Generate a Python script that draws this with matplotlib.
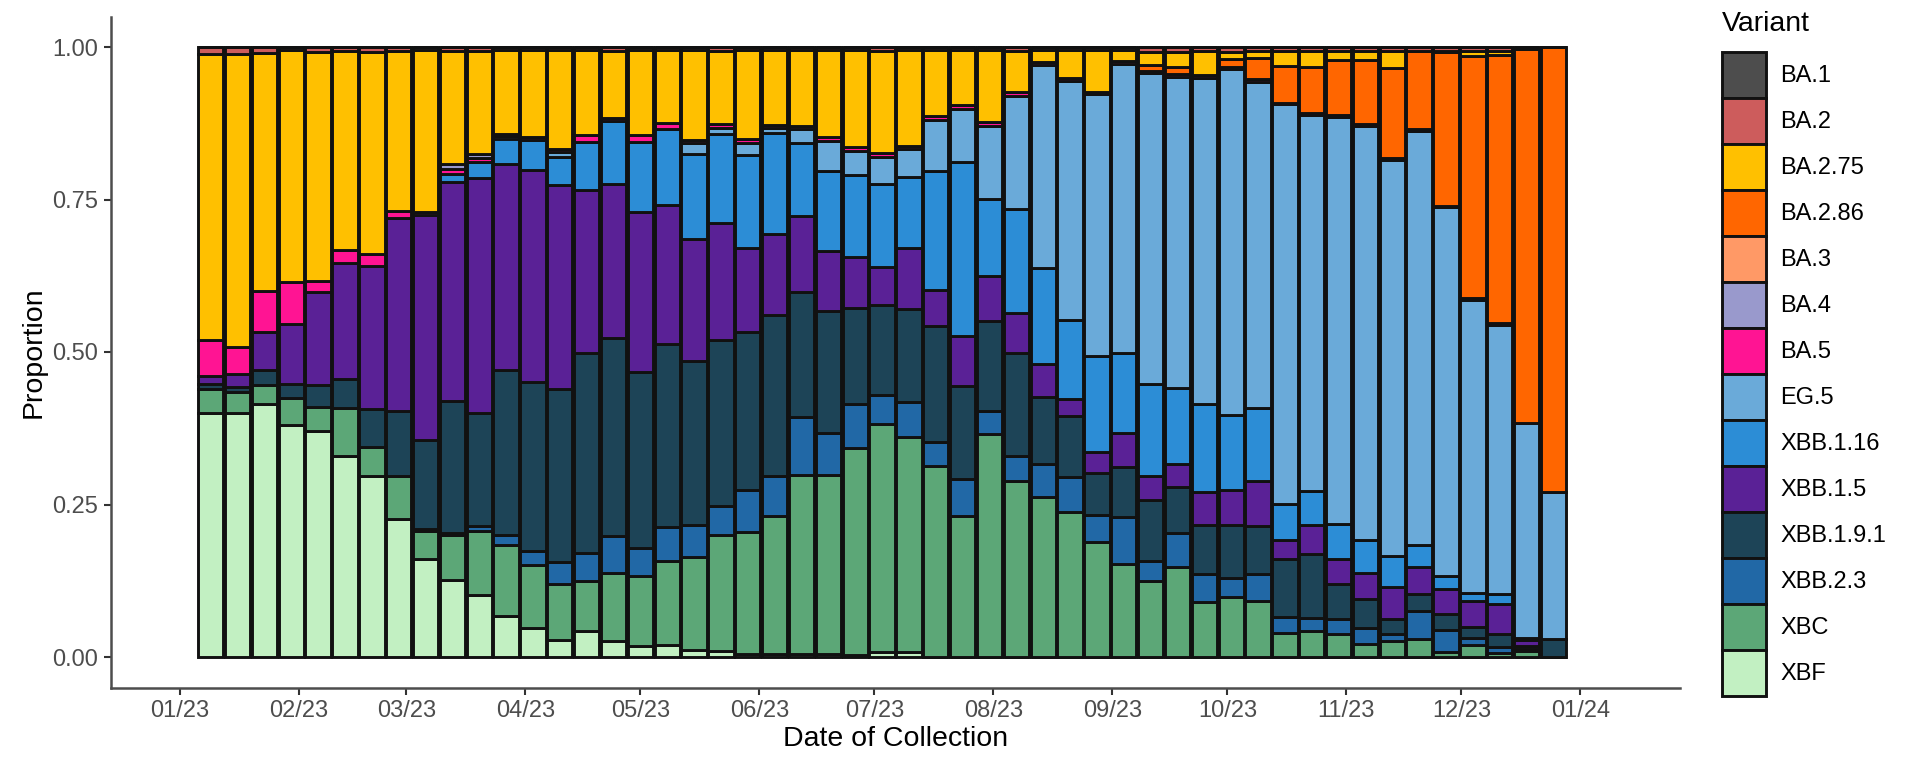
import numpy as np
import pandas as pd
import matplotlib
matplotlib.use("Agg")
import matplotlib.pyplot as plt
import matplotlib.dates as mdates
from matplotlib.patches import Patch

plt.rcParams["font.family"] = ["Liberation Sans", "DejaVu Sans"]

# weekly collection dates (week start)
weeks = pd.to_datetime([
    "2023-01-09", "2023-01-16", "2023-01-23", "2023-01-30", "2023-02-06", "2023-02-13",
    "2023-02-20", "2023-02-27", "2023-03-06", "2023-03-13", "2023-03-20", "2023-03-27",
    "2023-04-03", "2023-04-10", "2023-04-17", "2023-04-24", "2023-05-01", "2023-05-08",
    "2023-05-15", "2023-05-22", "2023-05-29", "2023-06-05", "2023-06-12", "2023-06-19",
    "2023-06-26", "2023-07-03", "2023-07-10", "2023-07-17", "2023-07-24", "2023-07-31",
    "2023-08-07", "2023-08-14", "2023-08-21", "2023-08-28", "2023-09-04", "2023-09-11",
    "2023-09-18", "2023-09-25", "2023-10-02", "2023-10-09", "2023-10-16", "2023-10-23",
    "2023-10-30", "2023-11-06", "2023-11-13", "2023-11-20", "2023-11-27", "2023-12-04",
    "2023-12-11", "2023-12-18", "2023-12-25",
])

variants = ["BA.1", "BA.2", "BA.2.75", "BA.2.86", "BA.3", "BA.4", "BA.5", "EG.5",
            "XBB.1.16", "XBB.1.5", "XBB.1.9.1", "XBB.2.3", "XBC", "XBF"]
colors = ["#4D4D4D", "#CD5C5C", "#FFC000", "#FF6600", "#FF9966", "#9999CC", "#FF1493",
          "#6AAAD9", "#2C8DD6", "#5A2196", "#1D4457", "#2168A6", "#5CA777", "#C2F0C2"]

# weekly proportions per variant
ba1 = [0.0] * 51
ba2 = [0.012, 0.011, 0.010, 0.005, 0.008, 0.007, 0.008, 0.007, 0.005, 0.007, 0.006, 0.005,
       0.005, 0.005, 0.005, 0.006, 0.005, 0.005, 0.005, 0.007, 0.005, 0.005, 0.005, 0.005,
       0.005, 0.006, 0.005, 0.005, 0.005, 0.005, 0.006, 0.005, 0.005, 0.005, 0.005, 0.009,
       0.008, 0.006, 0.008, 0.006, 0.006, 0.006, 0.006, 0.006, 0.006, 0.006, 0.006, 0.006,
       0.006, 0.004, 0.000]
ba275 = [0.468, 0.480, 0.390, 0.380, 0.375, 0.325, 0.331, 0.262, 0.265, 0.185, 0.170, 0.137,
         0.142, 0.163, 0.140, 0.110, 0.140, 0.120, 0.148, 0.120, 0.146, 0.123, 0.125, 0.143,
         0.159, 0.168, 0.158, 0.108, 0.090, 0.118, 0.068, 0.020, 0.046, 0.068, 0.018, 0.020,
         0.025, 0.040, 0.012, 0.012, 0.025, 0.027, 0.015, 0.015, 0.028, 0.000, 0.002, 0.008,
         0.007, 0.000, 0.000]
ba286 = [0.000, 0.000, 0.000, 0.000, 0.000, 0.000, 0.000, 0.000, 0.000, 0.000, 0.000, 0.000,
         0.000, 0.000, 0.000, 0.000, 0.000, 0.000, 0.000, 0.000, 0.000, 0.000, 0.000, 0.000,
         0.000, 0.000, 0.000, 0.000, 0.000, 0.000, 0.000, 0.000, 0.000, 0.000, 0.000, 0.010,
         0.012, 0.000, 0.012, 0.035, 0.060, 0.075, 0.090, 0.105, 0.148, 0.128, 0.252, 0.398,
         0.440, 0.612, 0.730]
ba3 = [0.0] * 51
ba4 = [0.000, 0.000, 0.000, 0.000, 0.000, 0.000, 0.000, 0.000, 0.000, 0.008, 0.006, 0.000,
       0.000, 0.000, 0.000, 0.000, 0.000, 0.000, 0.000, 0.000, 0.000, 0.000, 0.000, 0.000,
       0.000, 0.000, 0.000, 0.000, 0.000, 0.000, 0.000, 0.000, 0.000, 0.000, 0.000, 0.000,
       0.000, 0.000, 0.000, 0.000, 0.000, 0.000, 0.000, 0.000, 0.000, 0.000, 0.000, 0.000,
       0.000, 0.000, 0.000]
ba5 = [0.060, 0.045, 0.067, 0.069, 0.018, 0.022, 0.020, 0.012, 0.005, 0.008, 0.006, 0.004,
       0.006, 0.004, 0.010, 0.006, 0.010, 0.010, 0.005, 0.006, 0.006, 0.005, 0.005, 0.006,
       0.006, 0.006, 0.005, 0.006, 0.006, 0.006, 0.006, 0.005, 0.004, 0.004, 0.005, 0.004,
       0.004, 0.004, 0.004, 0.004, 0.003, 0.003, 0.003, 0.003, 0.003, 0.003, 0.003, 0.003,
       0.003, 0.000, 0.000]
eg5 = [0.000, 0.000, 0.000, 0.000, 0.000, 0.000, 0.000, 0.000, 0.000, 0.000, 0.000, 0.004,
       0.000, 0.008, 0.000, 0.000, 0.000, 0.000, 0.018, 0.010, 0.020, 0.008, 0.022, 0.050,
       0.040, 0.045, 0.045, 0.085, 0.088, 0.120, 0.186, 0.332, 0.392, 0.430, 0.473, 0.510,
       0.510, 0.535, 0.568, 0.535, 0.655, 0.617, 0.668, 0.680, 0.650, 0.680, 0.605, 0.480,
       0.440, 0.353, 0.240]
xbb116 = [0.000, 0.000, 0.000, 0.000, 0.000, 0.000, 0.000, 0.000, 0.000, 0.013, 0.027, 0.042,
          0.048, 0.047, 0.080, 0.102, 0.115, 0.124, 0.138, 0.145, 0.152, 0.166, 0.120, 0.131,
          0.134, 0.135, 0.117, 0.195, 0.285, 0.126, 0.170, 0.158, 0.130, 0.157, 0.131, 0.150,
          0.125, 0.145, 0.122, 0.120, 0.060, 0.055, 0.058, 0.053, 0.050, 0.035, 0.020, 0.014,
          0.017, 0.003, 0.000]
xbb15 = [0.013, 0.022, 0.063, 0.098, 0.153, 0.190, 0.235, 0.315, 0.370, 0.360, 0.385, 0.338,
         0.348, 0.333, 0.267, 0.253, 0.262, 0.228, 0.200, 0.192, 0.138, 0.133, 0.125, 0.098,
         0.084, 0.063, 0.100, 0.058, 0.082, 0.074, 0.065, 0.053, 0.028, 0.035, 0.056, 0.040,
         0.038, 0.054, 0.057, 0.074, 0.030, 0.048, 0.040, 0.043, 0.052, 0.045, 0.042, 0.042,
         0.050, 0.010, 0.000]
xbb191 = [0.007, 0.007, 0.024, 0.023, 0.036, 0.048, 0.061, 0.107, 0.145, 0.215, 0.185, 0.270,
          0.277, 0.284, 0.328, 0.325, 0.290, 0.300, 0.270, 0.272, 0.260, 0.263, 0.205, 0.200,
          0.157, 0.147, 0.152, 0.190, 0.153, 0.148, 0.170, 0.110, 0.100, 0.068, 0.083, 0.100,
          0.075, 0.080, 0.088, 0.078, 0.095, 0.105, 0.057, 0.047, 0.025, 0.028, 0.026, 0.018,
          0.020, 0.005, 0.030]
xbb23 = [0.000, 0.000, 0.000, 0.000, 0.000, 0.000, 0.000, 0.000, 0.003, 0.004, 0.008, 0.017,
         0.023, 0.037, 0.045, 0.061, 0.045, 0.055, 0.052, 0.048, 0.068, 0.066, 0.095, 0.068,
         0.072, 0.048, 0.058, 0.040, 0.060, 0.038, 0.040, 0.055, 0.057, 0.045, 0.077, 0.033,
         0.055, 0.046, 0.030, 0.044, 0.026, 0.022, 0.025, 0.026, 0.012, 0.045, 0.036, 0.012,
         0.010, 0.003, 0.000]
xbc = [0.040, 0.035, 0.031, 0.045, 0.040, 0.078, 0.048, 0.070, 0.047, 0.073, 0.105, 0.115,
       0.103, 0.091, 0.083, 0.111, 0.115, 0.138, 0.153, 0.190, 0.200, 0.226, 0.293, 0.294,
       0.339, 0.374, 0.352, 0.313, 0.231, 0.365, 0.289, 0.262, 0.238, 0.188, 0.152, 0.124,
       0.148, 0.090, 0.099, 0.092, 0.040, 0.042, 0.038, 0.022, 0.026, 0.030, 0.008, 0.019,
       0.007, 0.010, 0.000]
xbf = [0.400, 0.400, 0.415, 0.380, 0.370, 0.330, 0.297, 0.227, 0.160, 0.127, 0.102, 0.068,
       0.048, 0.028, 0.042, 0.026, 0.018, 0.020, 0.011, 0.010, 0.005, 0.005, 0.005, 0.005,
       0.004, 0.008, 0.008, 0.000, 0.000, 0.000, 0.000, 0.000, 0.000, 0.000, 0.000, 0.000,
       0.000, 0.000, 0.000, 0.000, 0.000, 0.000, 0.000, 0.000, 0.000, 0.000, 0.000, 0.000,
       0.000, 0.000, 0.000]

counts = np.array([ba1, ba2, ba275, ba286, ba3, ba4, ba5, eg5,
                   xbb116, xbb15, xbb191, xbb23, xbc, xbf], dtype=float)
props = counts / counts.sum(axis=0)

fig = plt.figure(figsize=(19.06, 7.57), dpi=100)
ax = fig.add_axes([111 / 1906, 1 - 687.5 / 757, (1680 - 111) / 1906, 671 / 757])

EDGE = "#111111"
# stack from the last level (XBF) at the bottom up to BA.1 on top
bottom = np.zeros(len(weeks))
for name, col, row in reversed(list(zip(variants, colors, props))):
    ax.bar(weeks, row, width=6.6, bottom=bottom, color=col,
           edgecolor=EDGE, linewidth=2.1, zorder=2)
    bottom += row

ax.set_ylim(-0.05, 1.05)
ax.set_yticks([0, 0.25, 0.5, 0.75, 1.0])
ax.set_yticklabels(["0.00", "0.25", "0.50", "0.75", "1.00"])
ax.set_xlim(pd.Timestamp("2022-12-14"), pd.Timestamp("2024-01-27"))
ax.xaxis.set_major_locator(mdates.MonthLocator(bymonthday=1))
ax.xaxis.set_major_formatter(mdates.DateFormatter("%m/%y"))

for side in ["top", "right"]:
    ax.spines[side].set_visible(False)
for side in ["left", "bottom"]:
    ax.spines[side].set_color("#4D4D4D")
    ax.spines[side].set_linewidth(1.8)

ax.tick_params(axis="both", labelsize=17, labelcolor="#4D4D4D", color="#333333",
               length=5, width=1.5, pad=4)
ax.set_xlabel("Date of Collection", fontsize=20.5, labelpad=3)
ax.set_ylabel("Proportion", fontsize=20.5, labelpad=4)

# legend: title as its own text, keys stacked edge to edge below it
fig.text(1722 / 1906, 1 - 24 / 757, "Variant", fontsize=20.5, ha="left", va="center")
handles = [Patch(facecolor=c, edgecolor=EDGE, linewidth=2.1) for c in colors]
fig.legend(handles, variants, loc="upper left",
           bbox_to_anchor=(1722 / 1906, 1 - 52 / 757),
           frameon=False, fontsize=17,
           handlelength=1.86, handleheight=2.62, handletextpad=0.6,
           labelspacing=0, borderpad=0, borderaxespad=0)

fig.savefig("out.png", dpi=100)
